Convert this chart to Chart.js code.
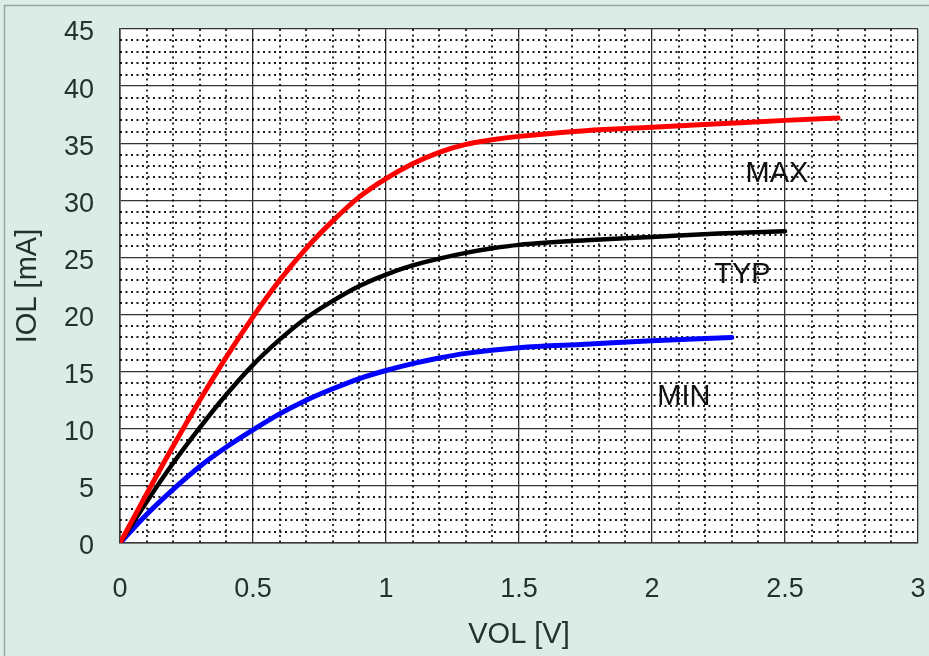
<!DOCTYPE html>
<html>
<head>
<meta charset="utf-8">
<script src="https://cdn.jsdelivr.net/npm/chart.js@4/dist/chart.umd.min.js"></script>
<style>
  html, body { margin: 0; padding: 0; background: #dbebe5; }
  #wrap { width: 929px; height: 656px; }
</style>
</head>
<body>
<div id="wrap"><canvas id="chart" width="929" height="656"></canvas></div>
<script>
// VOL [V] vs IOL [mA]
const maxVol = [0, 0.1, 0.2, 0.3, 0.4, 0.5, 0.6, 0.7, 0.8, 0.9, 1.0, 1.1, 1.2, 1.3, 1.4, 1.5, 1.75, 2.0, 2.25, 2.5, 2.7];
const maxIol = [0, 4.3, 8.5, 12.5, 16.3, 19.8, 23.0, 25.8, 28.2, 30.3, 31.9, 33.2, 34.2, 34.9, 35.3, 35.6, 36.1, 36.4, 36.7, 37.0, 37.2];

const typVol = [0, 0.1, 0.2, 0.3, 0.4, 0.5, 0.6, 0.7, 0.8, 0.9, 1.0, 1.1, 1.2, 1.3, 1.4, 1.5, 1.75, 2.0, 2.25, 2.5];
const typIol = [0, 3.6, 7.0, 10.1, 13.0, 15.6, 17.8, 19.7, 21.2, 22.5, 23.5, 24.3, 24.9, 25.4, 25.8, 26.1, 26.5, 26.8, 27.1, 27.3];

const minVol = [0, 0.1, 0.2, 0.3, 0.4, 0.5, 0.6, 0.7, 0.8, 0.9, 1.0, 1.1, 1.2, 1.3, 1.5, 1.75, 2.0, 2.3];
const minIol = [0, 2.5, 4.7, 6.7, 8.4, 9.9, 11.3, 12.5, 13.5, 14.4, 15.1, 15.7, 16.2, 16.6, 17.1, 17.4, 17.7, 18.0];

const xTicks = [0, 0.5, 1, 1.5, 2, 2.5, 3];
const yTicks = [0, 5, 10, 15, 20, 25, 30, 35, 40, 45];
const xMinor = [0.1, 0.2, 0.3, 0.4, 0.6, 0.7, 0.8, 0.9, 1.1, 1.2, 1.3, 1.4, 1.6, 1.7, 1.8, 1.9, 2.1, 2.2, 2.3, 2.4, 2.6, 2.7, 2.8, 2.9];
const yMinor = [1, 2, 3, 4, 6, 7, 8, 9, 11, 12, 13, 14, 16, 17, 18, 19, 21, 22, 23, 24, 26, 27, 28, 29, 31, 32, 33, 34, 36, 37, 38, 39, 41, 42, 43, 44];

const curveNames = ['MAX', 'TYP', 'MIN'];
const nameX = [2.47, 2.34, 2.12];
const nameY = [32.3, 23.5, 12.8];

function pairs(xs, ys) {
    return xs.map((x, i) => ({ x: x, y: ys[i] }));
}

const panelPlugin = {
    id: 'panel',
    beforeDraw(chart) {
        const ctx = chart.ctx;
        ctx.save();
        ctx.fillStyle = '#dbebe5';
        ctx.fillRect(0, 0, chart.width, chart.height);
        ctx.strokeStyle = '#9aa6a2';
        ctx.lineWidth = 1.5;
        ctx.strokeRect(4.5, 5.5, chart.width + 10, chart.height + 10);
        const a = chart.chartArea;
        ctx.fillStyle = '#ffffff';
        ctx.fillRect(a.left, a.top, a.right - a.left, a.bottom - a.top);
        ctx.restore();
    },
    beforeDatasetsDraw(chart) {
        const ctx = chart.ctx;
        const a = chart.chartArea;
        const xs = chart.scales.x, ys = chart.scales.y;
        ctx.save();
        ctx.strokeStyle = 'rgba(0,0,0,0.9)';
        ctx.lineWidth = 1.8;
        ctx.setLineDash([2, 3.5]);
        xMinor.forEach(v => {
            const px = Math.round(xs.getPixelForValue(v));
            ctx.beginPath();
            ctx.moveTo(px, a.top);
            ctx.lineTo(px, a.bottom);
            ctx.stroke();
        });
        yMinor.forEach(v => {
            const py = Math.round(ys.getPixelForValue(v));
            ctx.beginPath();
            ctx.moveTo(a.left, py);
            ctx.lineTo(a.right, py);
            ctx.stroke();
        });
        ctx.restore();
    },
    afterDatasetsDraw(chart) {
        const ctx = chart.ctx;
        const xs = chart.scales.x, ys = chart.scales.y;
        ctx.save();
        ctx.font = '29px "Liberation Sans", Arial, sans-serif';
        ctx.fillStyle = '#111111';
        ctx.textAlign = 'center';
        ctx.textBaseline = 'middle';
        curveNames.forEach((n, i) => {
            ctx.fillText(n, xs.getPixelForValue(nameX[i]), ys.getPixelForValue(nameY[i]));
        });
        ctx.restore();
    }
};

const ctx = document.getElementById('chart');
const myChart = new Chart(ctx, {
    type: 'line',
    data: {
        datasets: [
            { label: 'MAX', data: pairs(maxVol, maxIol), borderColor: '#ff0000', borderWidth: 5 },
            { label: 'TYP', data: pairs(typVol, typIol), borderColor: '#000000', borderWidth: 4.5 },
            { label: 'MIN', data: pairs(minVol, minIol), borderColor: '#0000ff', borderWidth: 5 }
        ]
    },
    options: {
        responsive: false,
        animation: false,
        devicePixelRatio: 1,
        layout: { padding: { top: 29, right: 11, left: 0, bottom: 0 } },
        elements: {
            point: { radius: 0 },
            line: { cubicInterpolationMode: 'monotone', fill: false, borderCapStyle: 'round' }
        },
        plugins: {
            legend: { display: false },
            tooltip: { enabled: false }
        },
        scales: {
            x: {
                type: 'linear',
                min: 0, max: 3,
                afterBuildTicks: s => { s.ticks = xTicks.map(v => ({ value: v })); },
                afterFit: s => { s.height = 113; s.paddingLeft = 0; s.paddingRight = 0; },
                grid: { color: '#333', lineWidth: 1.3, drawTicks: false },
                border: { color: '#3a3a3a', width: 1.6 },
                ticks: {
                    padding: 30,
                    color: '#23322c',
                    font: { family: '"Liberation Sans", Arial, sans-serif', size: 27 },
                    maxRotation: 0,
                    callback: v => String(v)
                },
                title: {
                    display: true,
                    text: 'VOL [V]',
                    color: '#23322c',
                    font: { family: '"Liberation Sans", Arial, sans-serif', size: 29 },
                    padding: { top: 4, bottom: 4 }
                }
            },
            y: {
                type: 'linear',
                min: 0, max: 45,
                afterBuildTicks: s => { s.ticks = yTicks.map(v => ({ value: v })); },
                afterFit: s => { s.width = 120; s.paddingTop = 0; s.paddingBottom = 0; },
                grid: { color: '#333', lineWidth: 1.3, drawTicks: false },
                border: { color: '#3a3a3a', width: 1.6 },
                ticks: {
                    padding: 26,
                    labelOffset: 4,
                    color: '#23322c',
                    font: { family: '"Liberation Sans", Arial, sans-serif', size: 27 },
                    callback: v => String(v)
                },
                title: {
                    display: true,
                    text: 'IOL [mA]',
                    color: '#23322c',
                    font: { family: '"Liberation Sans", Arial, sans-serif', size: 29 },
                    padding: { top: 11, bottom: 11 }
                }
            }
        }
    },
    plugins: [panelPlugin]
});
</script>
</body>
</html>
